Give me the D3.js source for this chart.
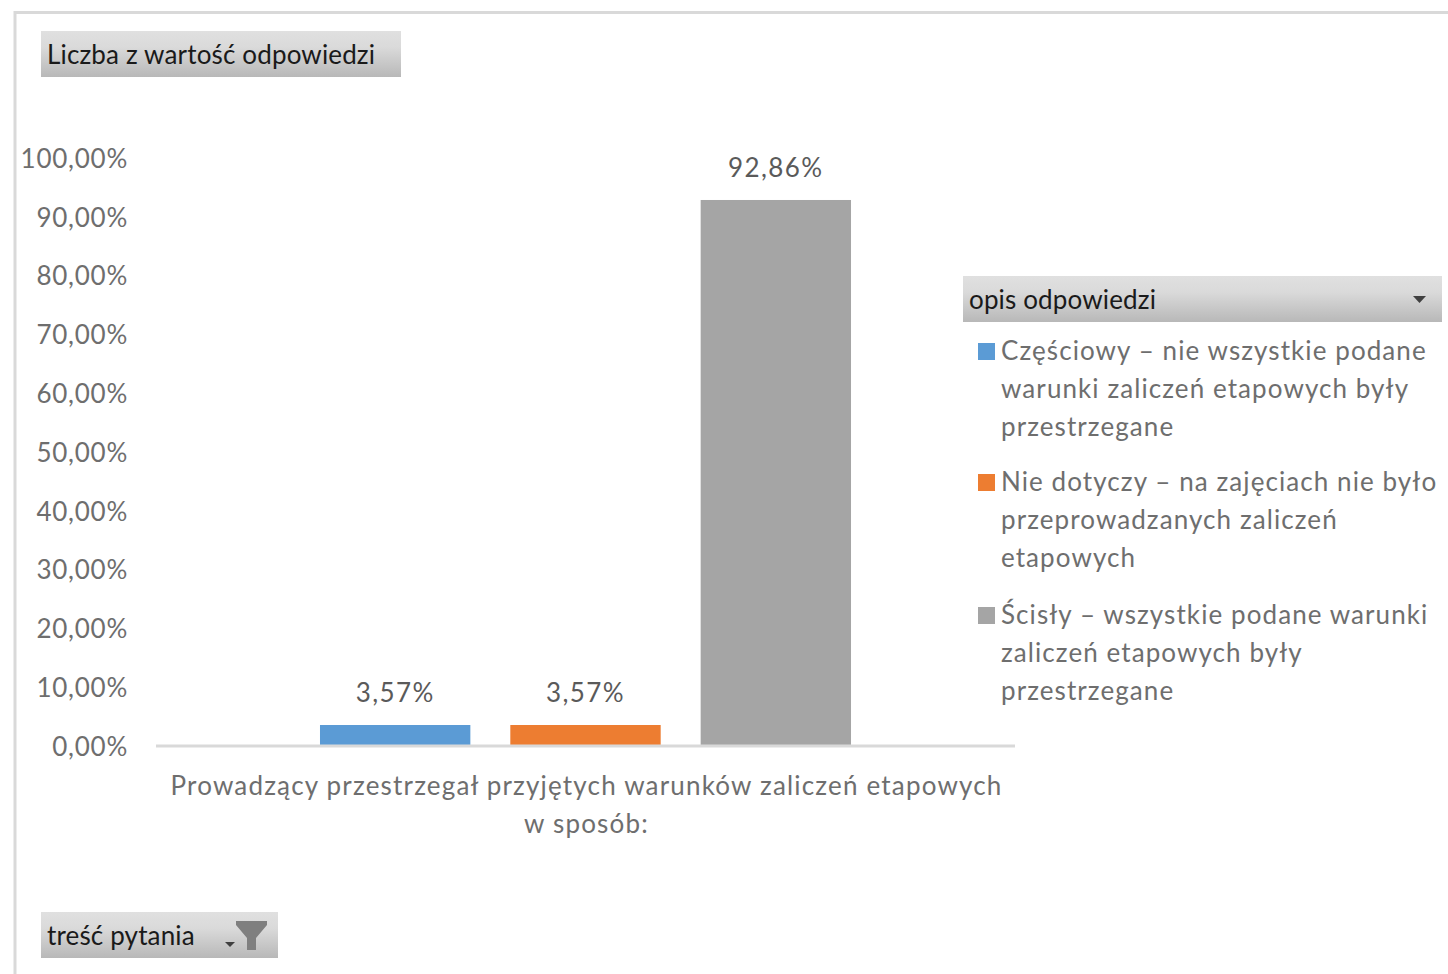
<!DOCTYPE html>
<html><head><meta charset="utf-8">
<script src="https://cdn.jsdelivr.net/npm/d3@7/dist/d3.min.js"></script>
<style>html,body{margin:0;padding:0;background:#fff}svg{display:block}text{font-family:Lato,"Open Sans",sans-serif}</style>
</head><body><svg id="c" width="1448" height="974"></svg>
<script>
const seriesNames=["Częściowy","Nie dotyczy","Ścisły"];
const seriesValues=[3.57,3.57,92.86];
const seriesColors=["#5b9bd5","#ed7d31","#a5a5a5"];
const yTicks=[0,10,20,30,40,50,60,70,80,90,100];
const categoryLines=["Prowadzący przestrzegał przyjętych warunków zaliczeń etapowych","w sposób:"];
const legendLines=[
 ["Częściowy – nie wszystkie podane","warunki zaliczeń etapowych były","przestrzegane"],
 ["Nie dotyczy – na zajęciach nie było","przeprowadzanych zaliczeń","etapowych"],
 ["Ścisły – wszystkie podane warunki","zaliczeń etapowych były","przestrzegane"]];
const valueField="Liczba z wartość odpowiedzi", legendField="opis odpowiedzi", filterField="treść pytania";
const fmt=v=>v.toFixed(2).replace(".",",")+"%";

const svg=d3.select("#c");
const grad=svg.append("defs").append("linearGradient").attr("id","g").attr("x1",0).attr("x2",0).attr("y1",0).attr("y2",1);
grad.append("stop").attr("offset","0").attr("stop-color","#e0e0e0");
grad.append("stop").attr("offset","0.35").attr("stop-color","#dadada");
grad.append("stop").attr("offset","1").attr("stop-color","#b8b8b8");

// chart frame
svg.append("path").attr("d","M15,974V12.5H1448").attr("fill","none").attr("stroke","#d9d9d9").attr("stroke-width",3);

const y=d3.scaleLinear().domain([0,100]).range([746,158]);
const x=d3.scaleBand().domain(seriesNames).range([300,871]).paddingInner(0.21).paddingOuter(0.105);

// y labels
const axis=d3.axisLeft(y).tickValues(yTicks).tickSize(0).tickPadding(0).tickFormat(fmt);
const ag=svg.append("g").attr("transform","translate(128,1)").call(axis);
ag.select(".domain").remove();
ag.selectAll("text").attr("font-size",26).attr("fill","#6e6e6e").attr("font-family","Lato").attr("letter-spacing",0.75);

// bars
svg.selectAll("rect.bar").data(seriesNames).join("rect").attr("class","bar")
 .attr("x",d=>x(d)).attr("width",x.bandwidth())
 .attr("y",(d,i)=>y(seriesValues[i])).attr("height",(d,i)=>y(0)-y(seriesValues[i]))
 .attr("fill",(d,i)=>seriesColors[i]);
// baseline
svg.append("line").attr("x1",156).attr("x2",1015).attr("y1",746).attr("y2",746).attr("stroke","#d9d9d9").attr("stroke-width",3);
// data labels
svg.selectAll("text.dl").data(seriesNames).join("text").attr("class","dl")
 .attr("x",d=>x(d)+x.bandwidth()/2).attr("y",(d,i)=>y(seriesValues[i])-23)
 .attr("text-anchor","middle").attr("font-size",26).attr("fill","#5a5a5a").attr("letter-spacing",1.4)
 .text((d,i)=>fmt(seriesValues[i]));
// category
svg.selectAll("text.cat").data(categoryLines).join("text").attr("class","cat")
 .attr("x",586.5).attr("y",(d,i)=>795+i*38).attr("text-anchor","middle").attr("font-size",26).attr("fill","#6e6e6e").attr("letter-spacing",1.18).text(d=>d);

// field buttons
function button(x0,y0,w,h,label){
 svg.append("rect").attr("x",x0).attr("y",y0).attr("width",w).attr("height",h).attr("fill","url(#g)");
 svg.append("text").attr("x",x0+6).attr("y",y0+h/2+10).attr("font-size",26).attr("fill","#1a1a1a").attr("letter-spacing",0.15).text(label);
}
button(41,31,360,46,valueField);
button(963,276,479,46,legendField);
button(41,912,237,46,filterField);
svg.append("path").attr("d",d3.line()([[1413,296],[1426,296],[1419.5,303]])+"Z").attr("fill","#404040");
svg.append("path").attr("d",d3.line()([[225,942],[235,942],[230,947]])+"Z").attr("fill","#404040");
svg.append("path").attr("d",d3.line()([[236,921],[267,921],[267,925],[256,938],[256,950],[247,950],[247,938],[236,925]])+"Z").attr("fill","#7f7f7f");

// legend
const ly=[351,482,615];
legendLines.forEach((lines,i)=>{
 svg.append("rect").attr("x",978).attr("y",ly[i]-8).attr("width",17).attr("height",17).attr("fill",seriesColors[i]);
 svg.selectAll(null).data(lines).join("text").attr("x",1001).attr("y",(d,j)=>ly[i]+9+j*38)
  .attr("font-size",26).attr("fill","#6e6e6e").attr("letter-spacing",1.08).text(d=>d);
});
</script></body></html>
